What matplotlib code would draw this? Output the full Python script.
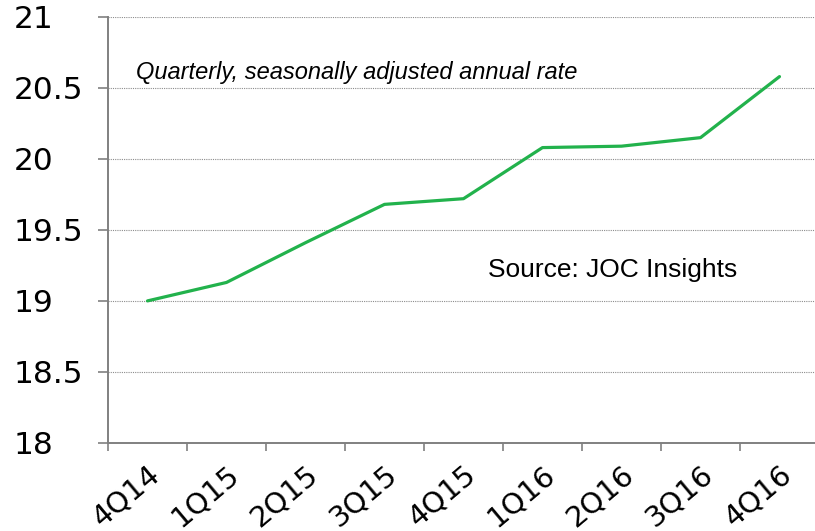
import matplotlib.pyplot as plt
import numpy as np

# quarterly values, seasonally adjusted annual rate
quarters = ['4Q14', '1Q15', '2Q15', '3Q15', '4Q15', '1Q16', '2Q16', '3Q16', '4Q16']
rate = [19.0, 19.13, 19.41, 19.68, 19.72, 20.08, 20.09, 20.15, 20.58]
yticks = [18, 18.5, 19, 19.5, 20, 20.5, 21]
ylabels = ['18', '18.5', '19', '19.5', '20', '20.5', '21']

fig = plt.figure(figsize=(8.15, 5.31), dpi=100)
ax = fig.add_axes([0.1325, 0.166, 0.8724, 0.802])

x = np.arange(len(quarters))
ax.plot(x, rate, color='#22b24c', lw=2.3, solid_capstyle='round', zorder=3)

ax.set_xlim(-0.5, len(quarters) - 0.5)
ax.set_ylim(18, 21)

# gridlines at every half step above the baseline
for v in yticks[1:]:
    ax.axhline(v, color='#8c8c8c', lw=0.8, ls=(0, (1, 1)), zorder=1)

for s in ['top', 'right']:
    ax.spines[s].set_visible(False)
for s in ['left', 'bottom']:
    ax.spines[s].set_color('#808080')
    ax.spines[s].set_linewidth(1.4)

ax.set_yticks(yticks)
ax.set_yticklabels(ylabels, fontsize=22.5, family='DejaVu Sans')
ax.tick_params(axis='y', length=7, width=1.2, color='#808080', pad=61)
for lab in ax.get_yticklabels():
    lab.set_ha('left')

# category labels at centres, tick marks at boundaries
ax.set_xticks(x)
ax.set_xticklabels(quarters, fontsize=21, family='DejaVu Sans',
                   rotation=40, ha='right', rotation_mode='anchor')
ax.tick_params(axis='x', which='major', length=0, pad=12)
ax.set_xticks(np.arange(len(quarters)) - 0.5, minor=True)
ax.tick_params(axis='x', which='minor', length=6, width=1.2, color='#808080')

ax.text(0.04, 0.87, 'Quarterly, seasonally adjusted annual rate', transform=ax.transAxes,
        fontsize=17, style='italic', family='Liberation Sans', va='center')
ax.text(0.535, 0.405, 'Source: JOC Insights', transform=ax.transAxes,
        fontsize=19, family='Liberation Sans', va='center')

fig.savefig('out.png', dpi=100)
